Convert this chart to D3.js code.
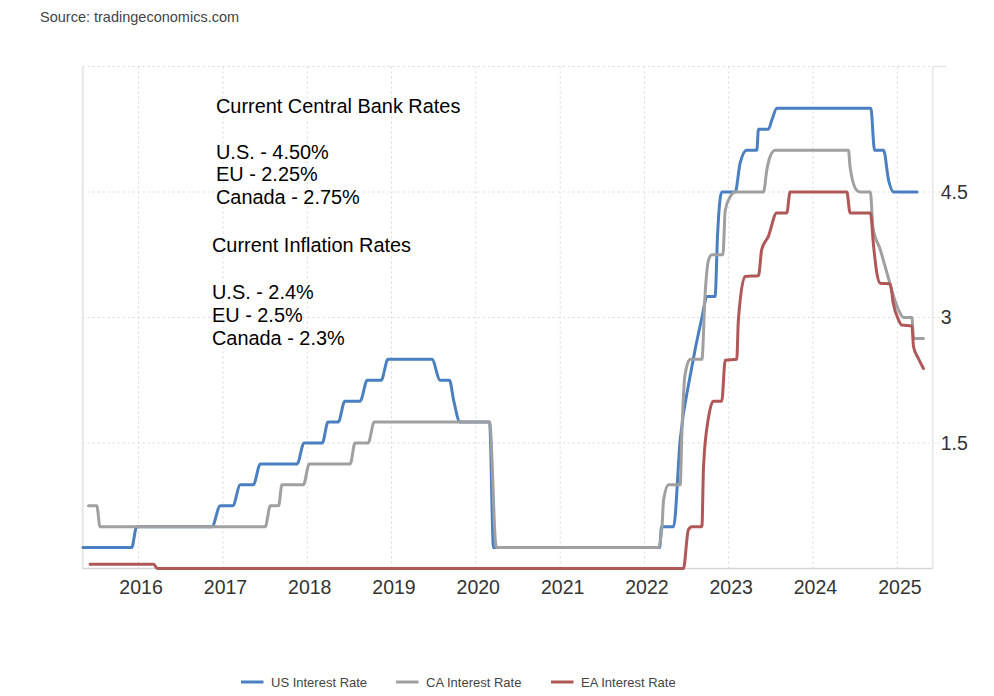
<!DOCTYPE html>
<html>
<head>
<meta charset="utf-8">
<script src="https://cdn.jsdelivr.net/npm/d3@7"></script>
<style>
    body { margin: 0; background: #fff; }
    text { font-family: "Liberation Sans", Arial, sans-serif; }
</style>
</head>
<body>
<div id="chart"></div>
<script>
// Policy rates (date, rate %)
const usDates = ["2015-05-05","2015-12-02","2015-12-24","2016-11-14","2016-12-20","2017-02-12","2017-03-17","2017-05-12","2017-06-12",
    "2017-11-18","2017-12-18","2018-03-07","2018-04-01","2018-05-15","2018-06-13","2018-08-18","2018-09-18","2018-11-17","2018-12-17",
    "2019-06-25","2019-07-31","2019-09-09","2019-09-28","2019-10-25","2020-03-01","2020-03-18","2022-03-08","2022-03-16","2022-05-07",
    "2022-06-05","2022-07-18","2022-09-07","2022-09-29","2022-11-03","2022-11-14","2022-12-02","2023-01-29","2023-02-20","2023-03-20",
    "2023-05-03","2023-05-10","2023-06-22","2023-07-07","2023-07-29","2024-09-08","2024-09-24","2024-11-02","2024-11-24","2024-12-16",
    "2025-03-27"];
const usRates = [0.25,0.25,0.5,0.5,0.75,0.75,1.0,1.0,1.25,
    1.25,1.5,1.5,1.75,1.75,2.0,2.0,2.25,2.25,2.5,
    2.5,2.25,2.25,2.0,1.75,1.75,0.25,0.25,0.5,0.5,
    1.54,2.3,3.0,3.25,3.25,4.0,4.5,4.5,4.85,5.0,
    5.0,5.25,5.25,5.36,5.5,5.5,5.0,5.0,4.64,4.5,
    4.5];

const caDates = ["2015-05-29","2015-07-04","2015-07-18","2017-07-03","2017-07-25","2017-08-30","2017-09-13","2017-12-15","2018-01-10",
    "2018-07-06","2018-07-27","2018-09-22","2018-10-18","2020-03-01","2020-03-30","2022-03-03","2022-03-18","2022-03-25","2022-04-16",
    "2022-06-05","2022-06-12","2022-06-25","2022-07-18","2022-09-07","2022-09-21","2022-10-06","2022-10-20","2022-12-07","2022-12-17",
    "2023-01-07","2023-01-29","2023-06-01","2023-06-15","2023-06-29","2023-07-21","2024-06-03","2024-06-10","2024-07-09","2024-07-24",
    "2024-09-06","2024-09-17","2024-10-19","2024-11-17","2024-12-16","2025-01-06","2025-01-28","2025-03-05","2025-03-12","2025-04-24"];
const caRates = [0.75,0.75,0.5,0.5,0.75,0.75,1.0,1.0,1.25,
    1.25,1.5,1.5,1.75,1.75,0.25,0.25,0.5,0.82,1.0,
    1.0,1.6,2.3,2.5,2.5,3.29,3.69,3.75,3.75,4.28,
    4.44,4.5,4.5,4.76,4.92,5.0,5.0,4.8,4.52,4.5,
    4.5,4.08,3.81,3.53,3.25,3.09,3.0,3.0,2.75,2.75];

const eaDates = ["2015-06-05","2016-03-07","2016-03-22","2022-06-19","2022-07-10","2022-07-25","2022-09-07","2022-09-14","2022-10-06",
    "2022-10-27","2022-12-02","2022-12-17","2023-02-05","2023-02-12","2023-03-13","2023-05-10","2023-05-24","2023-06-22","2023-07-28",
    "2023-09-10","2023-09-24","2024-05-27","2024-06-10","2024-09-06","2024-09-20","2024-10-04","2024-10-19","2024-12-01","2024-12-14",
    "2025-01-06","2025-01-20","2025-03-05","2025-03-12","2025-04-02","2025-04-24"];
const eaRates = [0.05,0.05,0.0,0.0,0.46,0.5,0.5,1.22,1.81,
    2.0,2.0,2.49,2.5,2.97,3.49,3.5,3.81,3.97,4.25,
    4.25,4.5,4.5,4.25,4.25,3.85,3.53,3.41,3.4,3.17,
    2.97,2.91,2.9,2.65,2.51,2.39];

const seriesNames = ["US Interest Rate", "CA Interest Rate", "EA Interest Rate"];
const yearTicks = [2016, 2017, 2018, 2019, 2020, 2021, 2022, 2023, 2024, 2025];
const rateTicks = [1.5, 3, 4.5];

const bankLines = ["Current Central Bank Rates", "", "U.S. - 4.50%", "EU - 2.25%", "Canada - 2.75%"];
const inflationLines = ["Current Inflation Rates", "", "U.S. - 2.4%", "EU - 2.5%", "Canada - 2.3%"];

const colors = ["#4a7fc1", "#a0a0a0", "#b05757"];

const parseDate = d3.timeParse("%Y-%m-%d");
const makeSeries = (dates, rates) => dates.map((d, i) => ({date: parseDate(d), value: rates[i]}));
const series = [
    makeSeries(usDates, usRates),
    makeSeries(caDates, caRates),
    makeSeries(eaDates, eaRates)
];

//Setting up chart area
let width = 994, height = 696;
let plot = {left: 82.7, right: 932.7, top: 66.5, bottom: 568.5};

let svg = d3.select("#chart").append("svg")
    .attr("width", width)
    .attr("height", height);

let x = d3.scaleTime()
    .domain([parseDate("2015-05-04"), parseDate("2025-06-03")])
    .range([plot.left, plot.right]);

let y = d3.scaleLinear()
    .domain([0, 6])
    .range([plot.bottom, plot.top]);

//Source line
svg.append("text")
    .attr("x", 40).attr("y", 22)
    .style("font-size", "14.5px").style("fill", "#444")
    .text("Source: tradingeconomics.com");

//Vertical dotted grid lines at each year
svg.append("g")
    .selectAll("line")
    .data(yearTicks)
    .enter().append("line")
    .attr("x1", d => x(new Date(d, 0, 1)))
    .attr("x2", d => x(new Date(d, 0, 1)))
    .attr("y1", plot.top)
    .attr("y2", plot.bottom)
    .style("stroke", "#d9d9d9")
    .style("stroke-dasharray", "2,3");

//Horizontal dotted grid lines
svg.append("g")
    .selectAll("line")
    .data(rateTicks.concat([6]))
    .enter().append("line")
    .attr("x1", plot.left)
    .attr("x2", d => d === 6 ? plot.right : plot.right + 7)
    .attr("y1", d => y(d))
    .attr("y2", d => y(d))
    .style("stroke", "#d9d9d9")
    .style("stroke-dasharray", "2,3");

//Frame: left, right and bottom lines
svg.append("line").attr("x1", plot.left).attr("x2", plot.left).attr("y1", plot.top).attr("y2", plot.bottom)
    .style("stroke", "#e6e6e6").style("stroke-width", 2);
svg.append("line").attr("x1", plot.right).attr("x2", plot.right).attr("y1", plot.top).attr("y2", plot.bottom)
    .style("stroke", "#e6e6e6").style("stroke-width", 1.5);
svg.append("line").attr("x1", plot.right).attr("x2", plot.right + 14).attr("y1", plot.top).attr("y2", plot.top)
    .style("stroke", "#e6e6e6").style("stroke-width", 1.5);
svg.append("line").attr("x1", plot.left).attr("x2", plot.right).attr("y1", plot.bottom).attr("y2", plot.bottom)
    .style("stroke", "#d6d6d6").style("stroke-width", 1.5);

//Bottom axis labels (years)
let xAxis = svg.append("g")
    .attr("transform", "translate(0," + plot.bottom + ")")
    .call(d3.axisBottom(x)
        .tickValues(yearTicks.map(d => new Date(d, 0, 1)))
        .tickFormat(d3.timeFormat("%Y"))
        .tickSize(0)
        .tickPadding(10));
xAxis.select(".domain").remove();
xAxis.selectAll("text")
    .attr("dx", 2)
    .attr("dy", "0.78em")
    .style("font-size", "19.5px")
    .style("fill", "#333")
    .style("font-family", "'Liberation Sans', Arial, sans-serif");

//Right axis labels
let yAxis = svg.append("g")
    .attr("transform", "translate(" + plot.right + ",0)")
    .call(d3.axisRight(y)
        .tickValues(rateTicks)
        .tickFormat(d3.format("~g"))
        .tickSize(0)
        .tickPadding(8));
yAxis.select(".domain").remove();
yAxis.selectAll("text")
    .style("font-size", "19.5px")
    .style("fill", "#333")
    .style("font-family", "'Liberation Sans', Arial, sans-serif");

//Rate lines
let line = d3.line()
    .x(d => x(d.date))
    .y(d => y(d.value))
    .curve(d3.curveMonotoneX);

svg.append("g")
    .selectAll("path")
    .data(series)
    .enter().append("path")
    .attr("fill", "none")
    .attr("stroke", (d, i) => colors[i])
    .attr("stroke-width", 3)
    .attr("stroke-linejoin", "round")
    .attr("stroke-linecap", "round")
    .attr("d", line);

//Annotation text blocks
svg.append("g")
    .selectAll("text")
    .data(bankLines)
    .enter().append("text")
    .attr("x", 216)
    .attr("y", (d, i) => 113 + i * 22.8)
    .style("font-size", "19.9px")
    .style("fill", "#000")
    .text(d => d);

svg.append("g")
    .selectAll("text")
    .data(inflationLines)
    .enter().append("text")
    .attr("x", 212)
    .attr("y", (d, i) => 252 + i * 23.3)
    .style("font-size", "19.9px")
    .style("fill", "#000")
    .text(d => d);

//Legend
let legendX = [241, 396, 551];
let legend = svg.append("g")
    .selectAll("g")
    .data(seriesNames)
    .enter().append("g")
    .attr("transform", (d, i) => "translate(" + legendX[i] + ",682)");
legend.append("line")
    .attr("x1", 0).attr("x2", 22.5)
    .attr("y1", 0).attr("y2", 0)
    .style("stroke", (d, i) => colors[i])
    .style("stroke-width", 3);
legend.append("text")
    .attr("x", 30).attr("y", 5)
    .style("font-size", "13px")
    .style("fill", "#444")
    .text(d => d);
</script>
</body>
</html>
